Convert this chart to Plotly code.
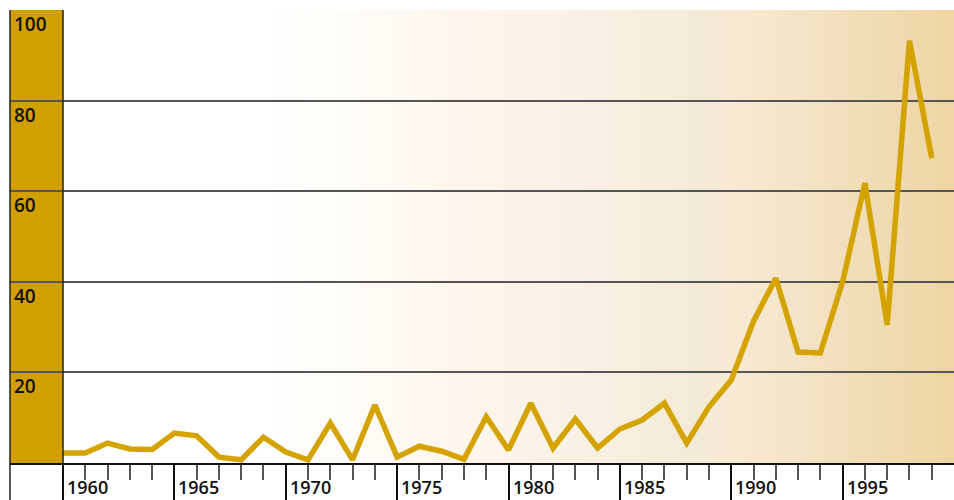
import plotly.graph_objects as go

years = list(range(1960, 2000))
values = [2.2, 2.2, 4.4, 3.1, 3.0, 6.6, 6.0, 1.3, 0.7, 5.7,
          2.4, 0.7, 8.8, 0.7, 12.8, 1.3, 3.7, 2.6, 0.8, 10.2,
          2.9, 13.2, 3.3, 9.7, 3.3, 7.5, 9.5, 13.2, 4.4, 12.4,
          18.3, 31.3, 40.8, 24.5, 24.3, 40.0, 61.8, 30.5, 93.2, 67.3]
x_tick_years = [1960, 1965, 1970, 1975, 1980, 1985, 1990, 1995]
x_minor_years = list(range(1961, 2000))
y_tick_values = [20, 40, 60, 80, 100]

LINE = "#D4A300"
BAND = "#D1A000"
FONT = "Open Sans"

# background gradient stops (fraction of plot width, colour)
grad_stops = [(0.0, (255, 255, 255)), (0.265, (255, 255, 255)), (0.36, (254, 252, 247)),
              (0.487, (254, 245, 236)), (0.625, (248, 240, 226)), (0.73, (243, 235, 214)),
              (0.76, (249, 234, 212)), (0.887, (241, 223, 187)), (1.0, (238, 213, 162))]

def grad_color(f):
    for (f0, c0), (f1, c1) in zip(grad_stops[:-1], grad_stops[1:]):
        if f0 <= f <= f1:
            t = (f - f0) / (f1 - f0) if f1 > f0 else 0
            return "rgb(%d,%d,%d)" % tuple(round(a + (b - a) * t) for a, b in zip(c0, c1))
    return "rgb(%d,%d,%d)" % grad_stops[-1][1]

X0 = 1957.62
X1 = 2000

shapes = []
n = 236
for i in range(n):
    f0 = i / n
    f1 = (i + 1.6) / n
    shapes.append(dict(type="rect", xref="paper", yref="paper", x0=f0, x1=min(f1, 1), y0=0, y1=1,
                       fillcolor=grad_color((i + 0.5) / n), line=dict(width=0), layer="below"))
# gold band
shapes.append(dict(type="rect", xref="x", yref="y", x0=X0, x1=1960, y0=0, y1=100,
                   fillcolor=BAND, line=dict(width=0), layer="below"))
# band borders / left axis line extending down
shapes.append(dict(type="line", xref="paper", yref="paper", x0=0, x1=0, y0=-37 / 453, y1=1,
                   line=dict(color="#222", width=1.5), layer="above"))
shapes.append(dict(type="line", xref="x", yref="paper", x0=1960, x1=1960, y0=0, y1=1,
                   line=dict(color="#222", width=1.5), layer="above"))

fig = go.Figure()
fig.add_trace(go.Scatter(x=years, y=values, mode="lines",
                         line=dict(color=LINE, width=5.5), hoverinfo="skip"))

annotations = []
for yv in y_tick_values:
    annotations.append(dict(text=str(yv), x=0, xref="paper", y=yv, yref="y", xanchor="left",
                            yanchor="top", xshift=2, yshift=1, showarrow=False,
                            font=dict(family=FONT, size=19, color="#111", weight=600)))
for xv in x_tick_years:
    annotations.append(dict(text=str(xv), x=xv, xref="x", y=0, yref="paper", xanchor="left",
                            yanchor="top", xshift=2, yshift=-10, showarrow=False,
                            font=dict(family=FONT, size=18, color="#111", weight=600)))

fig.update_layout(
    width=954, height=500,
    margin=dict(l=10, r=0, t=10, b=37),
    paper_bgcolor="white", plot_bgcolor="rgba(0,0,0,0)",
    showlegend=False,
    shapes=shapes,
    annotations=annotations,
    xaxis=dict(range=[X0, X1], showgrid=False, zeroline=False, showticklabels=False,
               tickmode="array", tickvals=x_tick_years, ticks="outside", ticklen=37,
               tickcolor="#111", tickwidth=1.5,
               minor=dict(tickmode="array", tickvals=x_minor_years, ticks="outside", ticklen=15,
                          tickcolor="#555", tickwidth=1.5, showgrid=False),
               showline=True, linecolor="#111", linewidth=2, fixedrange=True),
    yaxis=dict(range=[0, 100], tickvals=y_tick_values, showgrid=True, gridcolor="#555",
               gridwidth=1.5, zeroline=False, showticklabels=False, ticks="",
               showline=False, fixedrange=True),
)

fig.write_html("out.html", config={"displayModeBar": False},
               post_script="document.body.style.margin='0';")
